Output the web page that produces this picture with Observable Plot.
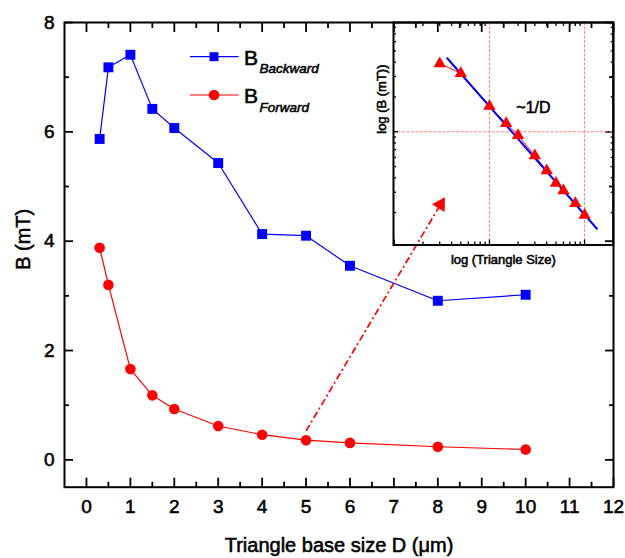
<!DOCTYPE html>
<html><head><meta charset="utf-8">
<script src="https://cdn.jsdelivr.net/npm/d3@7"></script>
<script src="https://cdn.jsdelivr.net/npm/@observablehq/plot@0.6"></script>
<style>
body{margin:0;background:#fff;}
#wrap{position:relative;width:625px;height:558px;font-family:"Liberation Sans",Arial,sans-serif;}
#wrap svg{position:absolute;overflow:visible;background:none}
#wrap svg text{stroke:#000;stroke-width:0.55px;paint-order:stroke}
</style></head><body><div id="wrap"></div>
<script>
// ---- data ----
const sizeD = [0.3, 0.5, 1, 1.5, 2, 3, 4, 5, 6, 8, 10];
const bBackward = [5.87, 7.18, 7.41, 6.42, 6.07, 5.43, 4.13, 4.10, 3.55, 2.91, 3.02];
const bForward = [3.88, 3.20, 1.66, 1.18, 0.93, 0.62, 0.46, 0.36, 0.31, 0.24, 0.19];
const seriesNames = ["Backward", "Forward"];
const xMajorTicks = [0, 1, 2, 3, 4, 5, 6, 7, 8, 9, 10, 11, 12];
const xMinorTicks = [0.5, 1.5, 2.5, 3.5, 4.5, 5.5, 6.5, 7.5, 8.5, 9.5, 10.5, 11.5];
const yMajorTicks = [0, 2, 4, 6, 8];
const yMinorTicks = [1, 3, 5, 7];
const arrowFrom = {x: 5, y: 0.53};
const arrowTo = {x: 8.12, y: 4.75};
const fitD = [0.36, 13.5];
const fitB = [4.32, 0.145];
const insetXTicks = [0.2, 0.3, 0.4, 0.5, 0.6, 0.7, 0.8, 0.9, 2, 3, 4, 5, 6, 7, 8, 9, 20];
const insetXDecades = [0.1, 1, 10];
const insetYTicks = [0.2, 0.3, 0.4, 0.5, 0.6, 0.7, 0.8, 0.9, 2, 3, 4, 5, 6, 7, 8];
const insetYDecades = [1];
const slopeLabel = {text: "~1/D", d: 2.9, b: 1.62};
const xTitle = "Triangle base size D (\u03bcm)";
const yTitle = "B (mT)";
const insetXTitle = "log (Triangle Size)";
const insetYTitle = "log (B (mT))";

const rows = sizeD.map((d, i) => ({d, back: bBackward[i], fwd: bForward[i]}));
const fitRows = fitD.map((d, i) => ({d, b: fitB[i]}));
const BLUE = "#0000ff", RED = "#ff0000";
const font = "Liberation Sans, Arial, sans-serif";
const blank = () => "";

const tickAx = (anchor, ticks, size, extra = {}) =>
  Plot[anchor === "top" || anchor === "bottom" ? "axisX" : "axisY"]({
    anchor, ticks, tickSize: -size, strokeWidth: 1.8, label: null, tickFormat: blank, ...extra
  });

const main = Plot.plot({
  width: 625, height: 558,
  marginLeft: 64, marginTop: 22, marginRight: 12, marginBottom: 71.3,
  style: {fontFamily: font, fontSize: "19px", background: "none", overflow: "visible"},
  x: {domain: [-0.5, 12]},
  y: {domain: [-0.5, 8]},
  marks: [
    tickAx("bottom", xMajorTicks, 9, {tickFormat: d => d, tickPadding: 21, fontSize: 19}),
    tickAx("bottom", xMinorTicks, 5),
    tickAx("top", xMajorTicks, 9),
    tickAx("top", xMinorTicks, 5),
    tickAx("left", yMajorTicks, 9, {tickFormat: d => d, tickPadding: 19, fontSize: 19}),
    tickAx("left", yMinorTicks, 5),
    tickAx("right", yMajorTicks, 9),
    tickAx("right", yMinorTicks, 5),
    Plot.line(rows, {x: "d", y: "back", stroke: BLUE, strokeWidth: 1.2}),
    Plot.dot(rows, {x: "d", y: "back", symbol: "square", r: 5.6, fill: BLUE}),
    Plot.line(rows, {x: "d", y: "fwd", stroke: RED, strokeWidth: 1.2}),
    Plot.dot(rows, {x: "d", y: "fwd", symbol: "circle", r: 5.3, fill: RED}),
    Plot.link([{x1: arrowFrom.x, y1: arrowFrom.y, x2: arrowTo.x, y2: arrowTo.y}],
      {x1: "x1", y1: "y1", x2: "x2", y2: "y2", stroke: RED, strokeWidth: 1.7, strokeDasharray: "7,3,2,3"}),
    Plot.dot([arrowTo], {x: "x", y: "y", symbol: "triangle", r: 5.5, fill: RED, rotate: 31, dx: -2.6, dy: 4.3}),
    Plot.frame({strokeWidth: 2}),
    Plot.text([xTitle], {frameAnchor: "bottom", dy: 58, fontSize: 20, lineAnchor: "middle"}),
    Plot.text([yTitle], {frameAnchor: "left", dx: -41, dy: 15, rotate: -90, fontSize: 20, lineAnchor: "middle"})
  ]
});
main.style.left = "0px"; main.style.top = "0px";
document.getElementById("wrap").appendChild(main);

// legend
const lg = d3.select(main).append("g").attr("font-family", font).attr("text-anchor", "start");
const legendItems = [
  {name: seriesNames[0], color: BLUE, symbol: d3.symbolSquare, size: 80, y: 56.7},
  {name: seriesNames[1], color: RED, symbol: d3.symbolCircle, size: 88, y: 95}
];
for (const it of legendItems) {
  lg.append("line").attr("x1", 190).attr("x2", 238.5).attr("y1", it.y).attr("y2", it.y)
    .attr("stroke", it.color).attr("stroke-width", 1.2);
  lg.append("path").attr("d", d3.symbol(it.symbol, it.size)()).attr("transform", `translate(214,${it.y})`)
    .attr("fill", it.color);
  lg.append("text").attr("x", 244).attr("y", it.y + 7.8).attr("font-size", 21).attr("text-anchor", "start").text("B");
  lg.append("text").attr("x", 259.5).attr("y", it.y + 16.5).attr("font-size", 13.5).attr("text-anchor", "start")
    .attr("font-style", "italic").text(it.name);
}

// inset
const iL = 32, iT = 10, iR = 12, iB = 30;
const frameL = 393.3, frameT = 22, frameR = 613, frameB = 244.5;
const inset = Plot.plot({
  width: iL + (frameR - frameL) + iR, height: iT + (frameB - frameT) + iB,
  marginLeft: iL, marginTop: iT, marginRight: iR, marginBottom: iB,
  style: {fontFamily: font, fontSize: "13px", background: "none", overflow: "visible"},
  x: {type: "log", domain: [0.098, 20]},
  y: {type: "log", domain: [0.105, 8.8]},
  marks: [
    Plot.ruleX(insetXDecades.slice(1), {stroke: "#ff7f7f", strokeWidth: 1, strokeDasharray: "3,1.5"}),
    Plot.ruleY(insetYDecades, {stroke: "#ff7f7f", strokeWidth: 1, strokeDasharray: "3,1.5"}),
    tickAx("bottom", insetXTicks, 3, {strokeWidth: 1.3}),
    tickAx("bottom", insetXDecades, 5, {strokeWidth: 1.3}),
    tickAx("top", insetXTicks, 3, {strokeWidth: 1.3}),
    tickAx("left", insetYTicks, 3, {strokeWidth: 1.3}),
    tickAx("left", insetYDecades, 5, {strokeWidth: 1.3}),
    tickAx("right", insetYTicks, 3, {strokeWidth: 1.3}),
    Plot.line(rows, {x: "d", y: "fwd", stroke: RED, strokeWidth: 1}),
    Plot.line(fitRows, {x: "d", y: "b", stroke: BLUE, strokeWidth: 2}),
    Plot.dot(rows, {x: "d", y: "fwd", symbol: "triangle", r: 4.6, fill: RED}),
    Plot.text([slopeLabel], {x: "d", y: "b", text: "text", fontSize: 16}),
    Plot.frame({strokeWidth: 2}),
    Plot.text([insetXTitle], {frameAnchor: "bottom", dy: 15, fontSize: 13, lineAnchor: "middle"}),
    Plot.text([insetYTitle], {frameAnchor: "left", dx: -12, rotate: -90, fontSize: 13, lineAnchor: "middle"})
  ]
});
inset.style.left = (frameL - iL) + "px"; inset.style.top = (frameT - iT) + "px";
document.getElementById("wrap").appendChild(inset);
</script></body></html>
